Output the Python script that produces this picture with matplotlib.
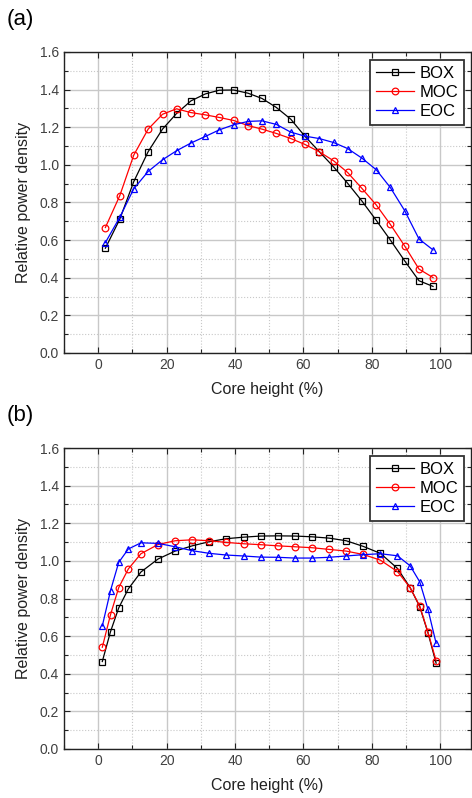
import matplotlib
matplotlib.use("Agg")
import matplotlib.pyplot as plt
from matplotlib.ticker import MultipleLocator

plt.rcParams['font.family'] = ['Liberation Sans', 'DejaVu Sans']

# axial positions (% of core height)
x_a = [2.1, 6.3, 10.4, 14.6, 18.8, 22.9, 27.1, 31.3, 35.4, 39.6, 43.8, 47.9,
       52.1, 56.3, 60.4, 64.6, 68.8, 72.9, 77.1, 81.3, 85.4, 89.6, 93.8, 97.9]
x_b = [1.2, 3.6, 6.0, 8.8, 12.5, 17.5, 22.5, 27.5, 32.5, 37.5, 42.5, 47.5,
       52.5, 57.5, 62.5, 67.5, 72.5, 77.5, 82.5, 87.5, 91.2, 94.0, 96.4, 98.8]

# (a) relative power density
box_a = [0.557, 0.711, 0.911, 1.070, 1.190, 1.273, 1.340, 1.377, 1.397, 1.398, 1.381, 1.353,
         1.305, 1.243, 1.153, 1.071, 0.990, 0.903, 0.808, 0.705, 0.601, 0.490, 0.384, 0.354]
moc_a = [0.667, 0.836, 1.052, 1.190, 1.269, 1.298, 1.278, 1.266, 1.252, 1.236, 1.209, 1.190,
         1.167, 1.140, 1.109, 1.070, 1.022, 0.960, 0.875, 0.787, 0.684, 0.569, 0.446, 0.401]
eoc_a = [0.587, 0.721, 0.873, 0.965, 1.027, 1.075, 1.116, 1.151, 1.186, 1.213, 1.231, 1.234,
         1.215, 1.174, 1.153, 1.140, 1.119, 1.087, 1.036, 0.974, 0.880, 0.757, 0.606, 0.548]

# (b) relative power density
box_b = [0.465, 0.624, 0.750, 0.851, 0.941, 1.010, 1.052, 1.080, 1.102, 1.118, 1.126, 1.132,
         1.133, 1.132, 1.128, 1.121, 1.107, 1.077, 1.040, 0.960, 0.858, 0.757, 0.619, 0.456]
moc_b = [0.541, 0.714, 0.858, 0.957, 1.038, 1.087, 1.107, 1.112, 1.107, 1.098, 1.091, 1.086,
         1.080, 1.075, 1.070, 1.061, 1.052, 1.034, 1.004, 0.943, 0.858, 0.760, 0.622, 0.469]
eoc_b = [0.654, 0.842, 0.992, 1.063, 1.096, 1.093, 1.075, 1.054, 1.040, 1.031, 1.026, 1.020,
         1.019, 1.015, 1.015, 1.019, 1.026, 1.033, 1.038, 1.027, 0.974, 0.889, 0.744, 0.562]

W, H = 472, 798
fig = plt.figure(figsize=(W / 100, H / 100), dpi=100)


def panel(top, bottom, x, box, moc, eoc, tag):
    ax = fig.add_axes([64 / W, 1 - bottom / H, (471 - 64) / W, (bottom - top) / H])
    style = dict(lw=0.9, mfc='none', mew=0.9)
    ax.plot(x, box, '-s', color='black', ms=4.2, label='BOX', **style)
    ax.plot(x, moc, '-o', color='red', ms=4.8, label='MOC', **style)
    ax.plot(x, eoc, '-^', color='blue', ms=5, label='EOC', **style)

    ax.set_xlim(-10, 109)
    ax.set_ylim(0, 1.6)
    ax.xaxis.set_major_locator(MultipleLocator(20))
    ax.xaxis.set_minor_locator(MultipleLocator(10))
    ax.yaxis.set_major_locator(MultipleLocator(0.2))
    ax.yaxis.set_minor_locator(MultipleLocator(0.1))
    ax.set_xticks([0, 20, 40, 60, 80, 100])
    ax.yaxis.set_major_formatter(plt.FuncFormatter(lambda v, p: f"{v:.1f}"))

    ax.grid(which='major', color='#c8c8c8', lw=1.0)
    ax.grid(which='minor', color='#c8c8c8', lw=0.8, ls=':')
    ax.set_axisbelow(True)

    ax.tick_params(which='both', direction='in', top=True, right=True,
                   labelsize=10, labelcolor='#404040', color='#222222')
    ax.tick_params(which='major', length=4, width=0.8)
    ax.tick_params(which='minor', length=3, width=0.8)
    for s in ax.spines.values():
        s.set_linewidth(1.0)
        s.set_color('#222222')

    ax.set_xlabel('Core height (%)', fontsize=11.5, color='#222222', labelpad=7)
    ax.set_ylabel('Relative power density', fontsize=11.5, color='#222222', labelpad=6)

    leg = ax.legend(loc='upper right', bbox_to_anchor=(0.983, 0.973), borderaxespad=0,
                    fontsize=12, handlelength=2.3, handletextpad=0.3, labelspacing=0.25,
                    borderpad=0.35, fancybox=False, framealpha=1, edgecolor='#333333')
    leg.get_frame().set_linewidth(1.3)

    fig.text(7 / W, 1 - (top - 32) / H, tag, fontsize=16, va='center', ha='left')
    return ax


panel(52, 353, x_a, box_a, moc_a, eoc_a, '(a)')
panel(448, 749, x_b, box_b, moc_b, eoc_b, '(b)')

fig.savefig('out.png', dpi=100)
